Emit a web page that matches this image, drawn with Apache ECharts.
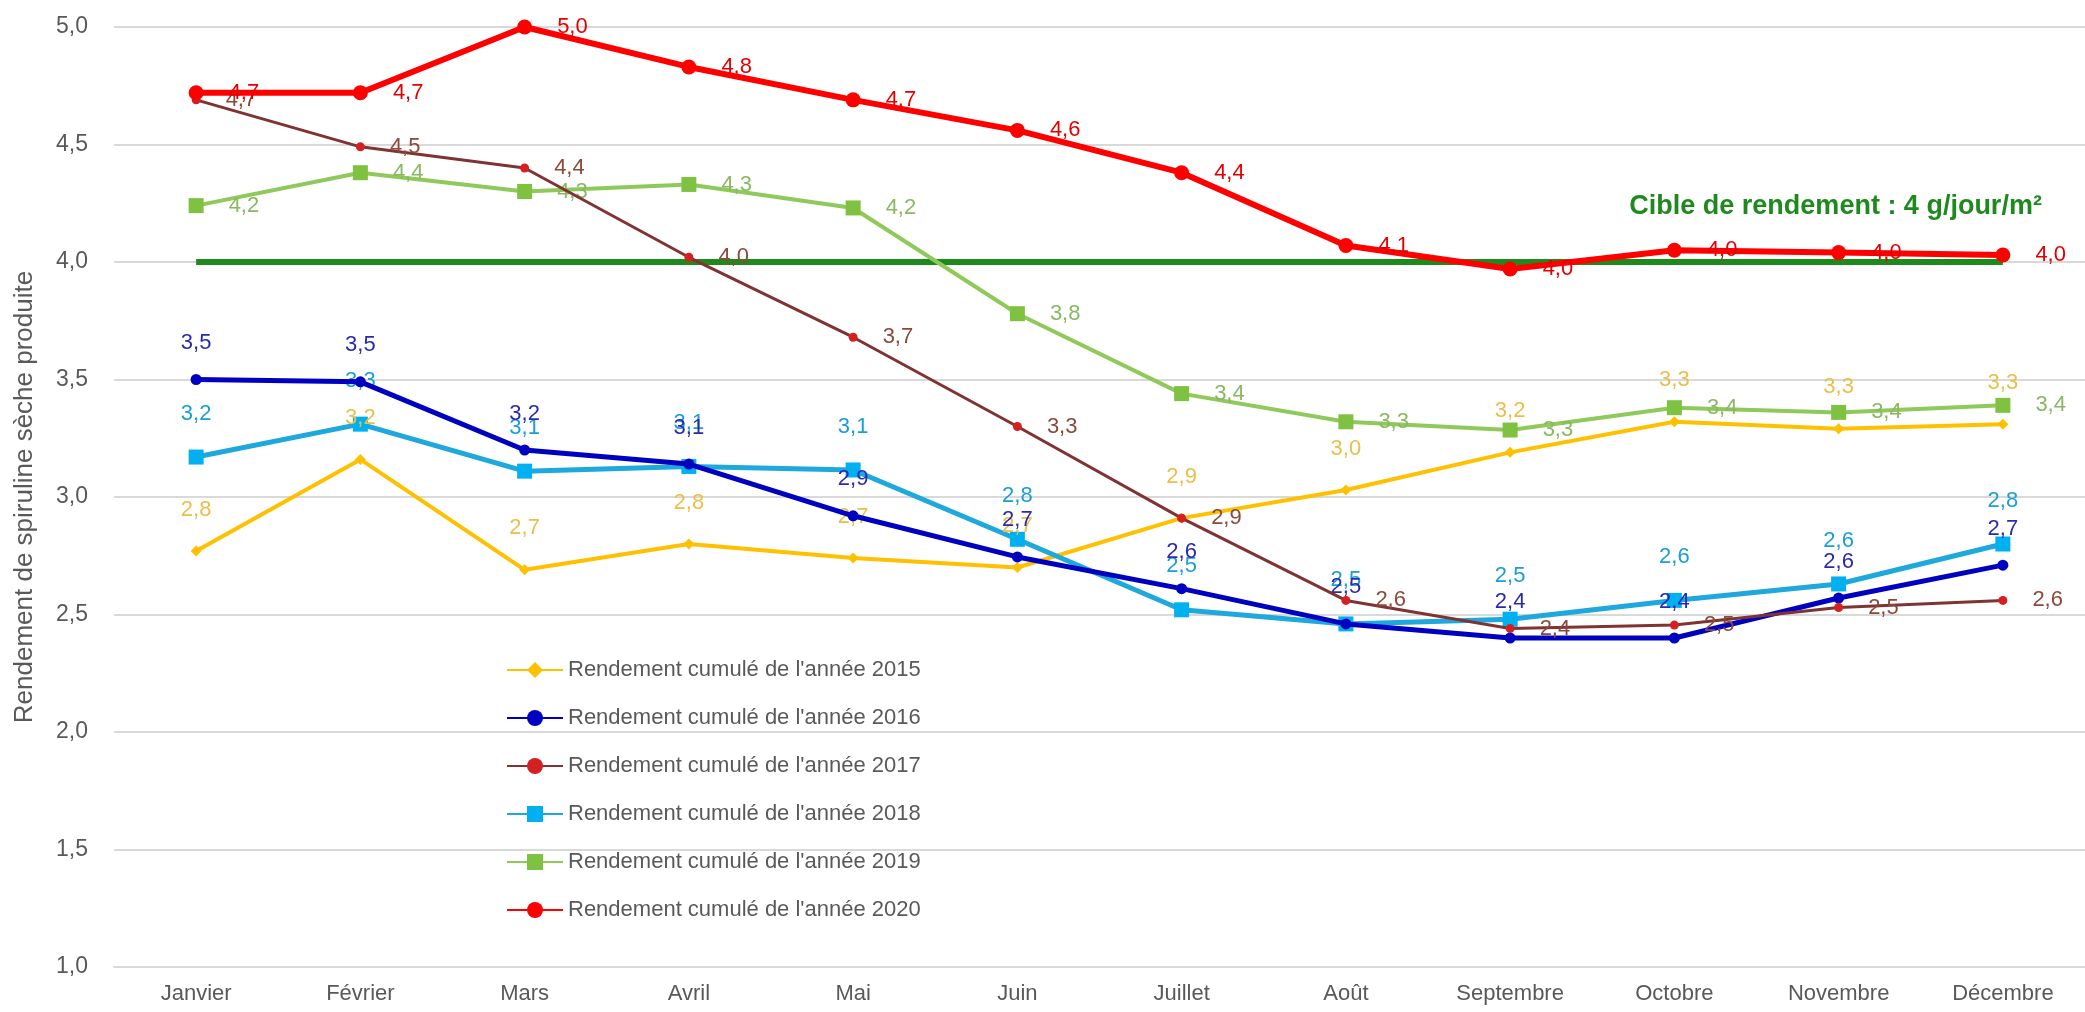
<!DOCTYPE html>
<html>
<head>
<meta charset="utf-8">
<script src="https://cdn.jsdelivr.net/npm/echarts@6/dist/echarts.min.js"></script>
<style>
html,body{margin:0;padding:0;background:#fff;}
#chart{width:2085px;height:1012px;}
</style>
</head>
<body>
<div id="chart"></div>
<script>
const months = ['Janvier','Février','Mars','Avril','Mai','Juin','Juillet','Août','Septembre','Octobre','Novembre','Décembre'];
const y2015 = [2.77, 3.16, 2.69, 2.80, 2.74, 2.70, 2.91, 3.03, 3.19, 3.32, 3.29, 3.31];
const y2016 = [3.50, 3.49, 3.20, 3.14, 2.92, 2.745, 2.61, 2.46, 2.40, 2.40, 2.57, 2.71];
const y2017 = [4.69, 4.49, 4.40, 4.02, 3.68, 3.30, 2.91, 2.56, 2.44, 2.455, 2.53, 2.56];
const y2018 = [3.17, 3.31, 3.11, 3.13, 3.115, 2.82, 2.52, 2.46, 2.48, 2.56, 2.63, 2.80];
const y2019 = [4.24, 4.38, 4.30, 4.33, 4.23, 3.78, 3.44, 3.32, 3.285, 3.38, 3.36, 3.39];
const y2020 = [4.72, 4.72, 5.00, 4.83, 4.69, 4.56, 4.38, 4.07, 3.97, 4.05, 4.04, 4.03];
const target = [4, 4, 4, 4, 4, 4, 4, 4, 4, 4, 4, 4];
const targetLabel = 'Cible de rendement : 4 g/jour/m²';
const yTitle = 'Rendement de spiruline sèche produite';
const seriesNames = ['Rendement cumulé de l\'année 2015','Rendement cumulé de l\'année 2016','Rendement cumulé de l\'année 2017','Rendement cumulé de l\'année 2018','Rendement cumulé de l\'année 2019','Rendement cumulé de l\'année 2020'];

const FONT = 'Liberation Sans';
const fmt = v => (typeof v === 'object' ? v.value : v).toFixed(1).replace('.', ',');

function mk(name, data, lineColor, markColor, labelColor, symbol, symSize, lw, pos, dist, z) {
  return {
    name: name, type: 'line', data: data, z: z,
    symbol: symbol, symbolSize: symSize,
    lineStyle: {color: lineColor, width: lw},
    itemStyle: {color: markColor},
    label: {show: true, position: pos, distance: dist, color: labelColor,
      fontFamily: FONT, fontSize: 22, formatter: p => fmt(p.value)},
    emphasis: {disabled: true},
    animation: false
  };
}

const chart = echarts.init(document.getElementById('chart'));
chart.setOption({
  backgroundColor: '#ffffff',
  animation: false,
  grid: {left: 114, right: -13, top: 27, bottom: 45, containLabel: false},
  legend: {
    data: seriesNames,
    orient: 'vertical', left: 501, top: 654,
    itemWidth: 56, itemHeight: 20, itemGap: 26,
    textStyle: {fontFamily: FONT, fontSize: 22, color: '#595959'},
    selectedMode: false
  },
  xAxis: {
    type: 'category', data: months, boundaryGap: true,
    axisLine: {lineStyle: {color: '#d9d9d9', width: 2}},
    axisTick: {show: false},
    axisLabel: {color: '#595959', fontFamily: FONT, fontSize: 22, margin: 16}
  },
  yAxis: {
    type: 'value', min: 1, max: 5, interval: 0.5,
    axisLine: {show: false}, axisTick: {show: false},
    splitLine: {lineStyle: {color: '#d9d9d9', width: 2}},
    axisLabel: {color: '#595959', fontFamily: FONT, fontSize: 23, margin: 26, formatter: v => fmt(v)},
    name: yTitle, nameLocation: 'middle', nameGap: 76,
    nameTextStyle: {color: '#595959', fontFamily: FONT, fontSize: 26}
  },
  series: [
    {
      name: 'cible', type: 'line', data: target, z: 2,
      symbol: 'none', lineStyle: {color: '#1e8a1e', width: 6},
      itemStyle: {color: '#1e8a1e'},
      label: {show: false}, emphasis: {disabled: true}, animation: false,
      markPoint: {
        symbol: 'circle', symbolSize: 0, silent: true, animation: false,
        data: [{coord: [target.length - 1, target[target.length - 1]]}],
        label: {show: true, position: 'top', align: 'right', offset: [39, -37],
          formatter: targetLabel, color: '#1e8a1e', fontWeight: 'bold', fontSize: 27, fontFamily: FONT}
      }
    },
    mk(seriesNames[0], y2015, '#ffc000', '#ffc000', '#e9bf4a', 'diamond', 11, 4, 'top', 25, 3),
    mk(seriesNames[1], y2016, '#0000c0', '#0000c0', '#2a2ab0', 'circle', 11, 5, 'top', 20, 4),
    mk(seriesNames[2], y2017, '#7f3333', '#d42020', '#8a4a3a', 'circle', 9, 3, 'right', 25, 5),
    mk(seriesNames[3], y2018, '#1ea8dc', '#00b0f0', '#1a9ed6', 'rect', 15, 5, 'top', 25, 3),
    mk(seriesNames[4], y2019, '#8fc95a', '#7fc241', '#8ab862', 'rect', 15, 4, 'right', 25, 3),
    mk(seriesNames[5], y2020, '#ff0000', '#ff0000', '#e30000', 'circle', 15, 6, 'right', 25, 6)
  ]
});
</script>
</body>
</html>
